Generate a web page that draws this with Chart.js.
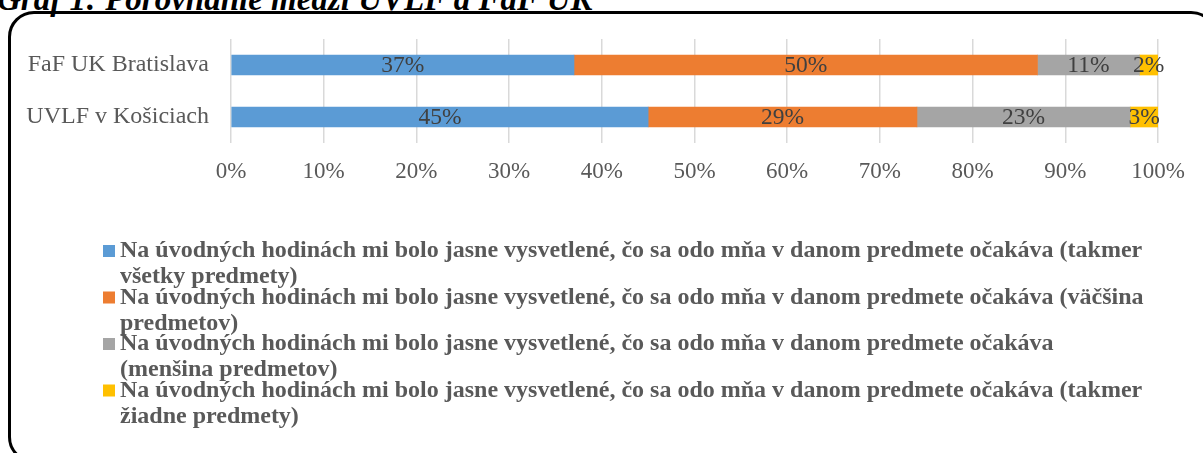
<!DOCTYPE html>
<html><head><meta charset="utf-8">
<script src="https://cdn.jsdelivr.net/npm/chart.js@4.4.1/dist/chart.umd.min.js"></script>
<style>
html,body{margin:0;padding:0;background:#fff;width:1203px;height:453px;overflow:hidden;position:relative}
#title{position:absolute;left:-3px;top:-17px;font:bold italic 33px "Liberation Serif";line-height:32px;color:#000;white-space:nowrap}
#frame{position:absolute;left:8px;top:11px;width:1209px;height:452px;border:3px solid #000;border-radius:26px;box-sizing:border-box;pointer-events:none}
canvas{position:absolute;left:0;top:0}
</style></head><body>
<div id="title">Graf 1: Porovnanie medzi UVLF a FaF UK</div>
<div id="frame"></div>
<canvas id="c" width="1203" height="453"></canvas>
<script>
// ---- data ----
const categories = ['FaF UK Bratislava', 'UVLF v Košiciach'];
const seriesNames = [
  'Na úvodných hodinách mi bolo jasne vysvetlené, čo sa odo mňa v danom predmete očakáva (takmer všetky predmety)',
  'Na úvodných hodinách mi bolo jasne vysvetlené, čo sa odo mňa v danom predmete očakáva (väčšina predmetov)',
  'Na úvodných hodinách mi bolo jasne vysvetlené, čo sa odo mňa v danom predmete očakáva (menšina predmetov)',
  'Na úvodných hodinách mi bolo jasne vysvetlené, čo sa odo mňa v danom predmete očakáva (takmer žiadne predmety)'
];
const takmerVsetky = [37, 45];
const vacsina = [50, 29];
const mensina = [11, 23];
const takmerZiadne = [2, 3];
const xTickMin = 0, xTickMax = 100, xTickStep = 10;
const seriesColors = ['#5B9BD5', '#ED7D31', '#A5A5A5', '#FFC000'];

const seriesValues = [takmerVsetky, vacsina, mensina, takmerZiadne];
const FONT = '"Liberation Serif", "Times New Roman", serif';

const dataLabels = {
  id: 'dataLabels',
  afterDatasetsDraw(chart) {
    const ctx = chart.ctx;
    ctx.save();
    ctx.font = '23.5px ' + FONT;
    ctx.fillStyle = '#404040';
    ctx.textAlign = 'center';
    ctx.textBaseline = 'middle';
    chart.data.datasets.forEach((ds, di) => {
      const meta = chart.getDatasetMeta(di);
      meta.data.forEach((el, i) => {
        const cx = (el.x + el.base) / 2;
        ctx.fillText(ds.data[i] + '%', cx, el.y + 1);
      });
    });
    ctx.restore();
  }
};

const wrapLegend = {
  id: 'wrapLegend',
  afterDraw(chart) {
    const ctx = chart.ctx;
    ctx.save();
    ctx.font = 'bold 24px ' + FONT;
    ctx.fillStyle = '#595959';
    ctx.textAlign = 'left';
    ctx.textBaseline = 'middle';
    const boxX = 103, textX = 120, maxW = 1028, top = 251, itemGap = 46.5, lineGap = 26, box = 12;
    chart.data.datasets.forEach((ds, i) => {
      const words = ds.label.split(' ');
      const lines = [];
      let cur = '';
      words.forEach(w => {
        const t = cur ? cur + ' ' + w : w;
        if (ctx.measureText(t).width > maxW && cur) { lines.push(cur); cur = w; } else cur = t;
      });
      if (cur) lines.push(cur);
      const y = top + i * itemGap;
      ctx.fillStyle = ds.backgroundColor;
      ctx.fillRect(boxX, y - box / 2, box, box);
      ctx.fillStyle = '#595959';
      lines.forEach((ln, k) => ctx.fillText(ln, textX, y + k * lineGap));
    });
    ctx.restore();
  }
};

new Chart(document.getElementById('c'), {
  type: 'bar',
  data: {
    labels: categories,
    datasets: seriesNames.map((n, i) => ({
      label: n,
      data: seriesValues[i],
      backgroundColor: seriesColors[i],
      borderWidth: 0,
      barThickness: 20
    }))
  },
  options: {
    indexAxis: 'y',
    responsive: false,
    animation: false,
    devicePixelRatio: 1,
    layout: { padding: { top: 39, right: 45, bottom: 260, left: 0 } },
    plugins: { legend: { display: false }, tooltip: { enabled: false }, title: { display: false } },
    scales: {
      x: {
        stacked: true, min: xTickMin, max: xTickMax,
        ticks: { stepSize: xTickStep, callback: v => v + '%', font: { family: FONT, size: 23 }, color: '#595959', padding: 15 },
        grid: { color: '#d9d9d9', lineWidth: 1.5, drawTicks: false },
        border: { display: false },
        afterFit(s) { s.height = 50; }
      },
      y: {
        stacked: true,
        ticks: { font: { family: FONT, size: 24 }, color: '#595959', padding: 22 },
        grid: { display: false, drawTicks: false },
        border: { display: false },
        afterFit(s) { s.width = 231; }
      }
    }
  },
  plugins: [dataLabels, wrapLegend]
});
</script>
</body></html>
